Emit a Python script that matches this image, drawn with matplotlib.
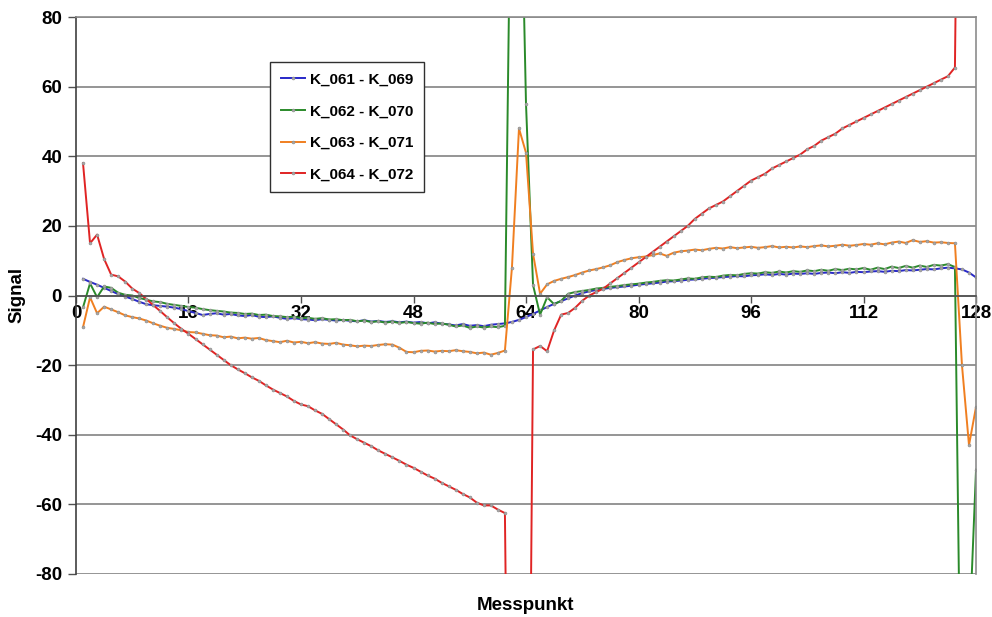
import matplotlib
matplotlib.use("Agg")
import matplotlib.pyplot as plt

plt.rcParams['font.family'] = ['Liberation Sans', 'DejaVu Sans']
plt.rcParams['font.weight'] = 'bold'
plt.rcParams['axes.unicode_minus'] = False

## measurement points 1..128
messpunkt = list(range(1, 129))

## signal differences per channel pair
k061_k069 = [4.8, 3.9, 3.1, 2.2, 1.3, 0.4, -0.3, -1.0, -1.8, -2.5,
             -2.8, -3.0, -3.2, -3.5, -3.9, -4.5, -5.0, -5.6, -5.3, -5.1,
             -5.5, -5.3, -5.7, -5.9, -5.6, -6.1, -6.2, -6.0, -6.4, -6.7,
             -6.5, -6.8, -6.9, -7.1, -6.8, -7.0, -7.2, -7.0, -7.3, -7.4,
             -7.1, -7.5, -7.3, -7.6, -7.4, -7.7, -7.5, -7.8, -7.6, -8.0,
             -7.7, -8.1, -8.3, -8.6, -8.2, -8.7, -8.5, -8.8, -8.4, -8.2,
             -8.0, -7.6, -7.0, -6.2, -5.3, -4.3, -3.3, -2.4, -1.6, -0.8,
             0.0, 0.7, 1.2, 1.6, 1.9, 2.2, 2.4, 2.6, 2.8, 3.1,
             3.3, 3.5, 3.7, 4.0, 4.1, 4.3, 4.5, 4.6, 4.8, 5.0,
             5.1, 5.3, 5.4, 5.6, 5.5, 5.8, 5.9, 6.1, 5.9, 6.2,
             6.0, 6.3, 6.2, 6.4, 6.2, 6.5, 6.6, 6.4, 6.7, 6.5,
             6.8, 6.7, 6.9, 7.0, 6.8, 7.1, 7.0, 7.3, 7.2, 7.4,
             7.6, 7.5, 7.8, 8.0, 7.8, 7.5, 6.6, 5.2]

k062_k070 = [-3.4, 3.5, -0.5, 2.6, 2.2, 0.8, 0.2, 0.0, -0.7, -1.2,
             -1.7, -1.9, -2.4, -2.7, -3.0, -3.3, -3.5, -3.9, -4.2, -4.4,
             -4.6, -4.9, -5.0, -5.3, -5.2, -5.6, -5.5, -5.9, -6.0, -6.2,
             -6.1, -6.5, -6.4, -6.7, -6.5, -6.9, -6.8, -7.1, -7.0, -7.4,
             -7.2, -7.6, -7.4, -7.8, -7.5, -7.9, -7.6, -7.9, -8.1, -7.8,
             -8.2, -8.0, -8.4, -8.9, -8.6, -9.3, -8.9, -9.2, -8.9, -9.1,
             -8.7, 150.0, 150.0, 55.0, 3.0, -5.5, -0.5, -2.5, -1.5, 0.5,
             1.0, 1.3, 1.6, 2.0, 2.2, 2.5, 2.7, 3.0, 3.2, 3.4,
             3.7, 3.9, 4.2, 4.4, 4.3, 4.6, 4.9, 4.8, 5.2, 5.4,
             5.3, 5.7, 5.9, 5.8, 6.2, 6.4, 6.3, 6.7, 6.5, 6.9,
             6.6, 7.0, 6.8, 7.2, 7.0, 7.4, 7.1, 7.6, 7.3, 7.7,
             7.5, 7.9, 7.4, 8.0, 7.6, 8.3, 7.9, 8.5, 8.0, 8.6,
             8.2, 8.8, 8.6, 9.0, 8.2, -150.0, -100.0, -50.0]

k063_k071 = [-9.1, -0.5, -5.1, -3.2, -4.0, -4.8, -5.7, -6.2, -6.6, -7.2,
             -8.0, -8.7, -9.3, -9.6, -10.0, -10.5, -10.6, -11.0, -11.4, -11.5,
             -12.0, -11.8, -12.3, -12.1, -12.4, -12.2, -12.8, -13.1, -13.4, -13.0,
             -13.5, -13.3, -13.7, -13.4, -13.8, -13.9, -13.6, -14.1, -14.3, -14.6,
             -14.4, -14.5, -14.2, -14.0, -14.1, -15.0, -16.2, -16.3, -15.9, -15.8,
             -16.1, -15.9, -16.0, -15.7, -16.0, -16.2, -16.6, -16.4, -17.0, -16.5,
             -15.8, 8.0, 48.0, 41.0, 12.0, 0.5, 3.2, 4.2, 4.8, 5.3,
             5.9, 6.6, 7.2, 7.6, 8.1, 8.7, 9.6, 10.2, 10.7, 11.0,
             11.2, 11.6, 12.1, 11.4, 12.3, 12.7, 12.9, 13.2, 13.0, 13.4,
             13.7, 13.5, 13.9, 13.6, 13.8, 14.0, 13.7, 13.9, 14.2, 13.8,
             14.0, 13.8, 14.1, 13.9, 14.2, 14.4, 14.1, 14.3, 14.6, 14.3,
             14.5, 14.8, 14.6, 15.0, 14.7, 15.2, 15.5, 15.1, 15.9, 15.4,
             15.6, 15.2, 15.3, 15.1, 15.0, -20.0, -43.0, -32.0]

k064_k072 = [38.0, 15.0, 17.5, 10.5, 6.0, 5.5, 4.0, 2.0, 0.7, -1.0,
             -2.8, -4.5, -6.3, -8.0, -9.6, -11.0, -12.5, -14.0, -15.5, -17.0,
             -18.5, -20.0, -21.2, -22.3, -23.5, -24.5, -25.8, -27.0, -28.0, -29.0,
             -30.3, -31.3, -31.8, -33.0, -34.0, -35.5, -37.0, -38.5, -40.2, -41.3,
             -42.3, -43.3, -44.5, -45.5, -46.5, -47.5, -48.6, -49.5, -50.6, -51.7,
             -52.6, -53.8, -54.8, -55.8, -57.0, -58.0, -59.5, -60.3, -60.3, -61.5,
             -62.5, -250.0, -250.0, -250.0, -15.5, -14.5, -16.0, -10.0, -5.5, -5.0,
             -3.5, -1.5, 0.0, 1.0, 2.0, 3.5, 5.0, 6.5, 8.0, 9.5,
             11.0, 12.5, 14.0, 15.5, 17.0, 18.5, 20.0, 22.0, 23.5, 25.0,
             26.0, 27.0, 28.5, 30.0, 31.5, 33.0, 34.0, 35.0, 36.5, 37.5,
             38.5, 39.5, 40.5, 42.0, 43.0, 44.5, 45.5, 46.5, 48.0, 49.0,
             50.0, 51.0, 52.0, 53.0, 54.0, 55.0, 56.0, 57.0, 58.0, 59.0,
             60.0, 61.0, 62.0, 63.0, 65.5, 250.0, 250.0, 250.0]

series = [("K_061 - K_069", k061_k069, "#2828c8"),
          ("K_062 - K_070", k062_k070, "#2a8a2a"),
          ("K_063 - K_071", k063_k071, "#f07f20"),
          ("K_064 - K_072", k064_k072, "#e02424")]

fig = plt.figure(figsize=(9.92, 6.17), dpi=100)
ax = fig.add_axes([0.0766, 0.0697, 0.9073, 0.9027])

for label, vals, col in series:
    ax.plot(messpunkt, vals, color=col, lw=1.4, label=label,
            marker='o', ms=2.1, mfc='#a8a8a8', mec='#8a8a8a', mew=0.4)

ax.set_xlim(0, 128)
ax.set_ylim(-80, 80)
ax.set_xticks(range(0, 129, 16))
ax.set_yticks(range(-80, 81, 20))
ax.yaxis.grid(True, color='#8c8c8c', lw=1.3)
ax.set_axisbelow(True)

# x axis runs through zero
ax.spines['bottom'].set_position(('data', 0))
ax.spines['bottom'].set_color('#505050')
ax.spines['left'].set_color('#404040')
ax.spines['top'].set_color('#8c8c8c')
ax.spines['right'].set_color('#8c8c8c')
for s in ax.spines.values():
    s.set_linewidth(1.2)

ax.tick_params(axis='x', direction='out', length=5, width=1, color='#505050',
               labelsize=13.5, pad=2)
ax.tick_params(axis='y', direction='out', length=6, width=1, color='#505050',
               labelsize=13.5, pad=4)
for t in ax.get_xticklabels() + ax.get_yticklabels():
    t.set_fontweight('bold')

fig.text(0.017, 0.522, "Signal", rotation=90, ha='center', va='center',
         fontsize=13.5, fontweight='bold')
fig.text(0.530, 0.018, "Messpunkt", ha='center', va='center',
         fontsize=13.5, fontweight='bold')

leg = ax.legend(loc='upper left', bbox_to_anchor=(0.2156, 0.919),
                fancybox=False, edgecolor='#303030', framealpha=1,
                prop={'weight': 'bold', 'size': 11}, numpoints=1,
                handlelength=1.6, handletextpad=0.3, labelspacing=1.15,
                borderpad=0.7, borderaxespad=0)
leg.get_frame().set_linewidth(1.0)

fig.savefig("out.png", dpi=100)
